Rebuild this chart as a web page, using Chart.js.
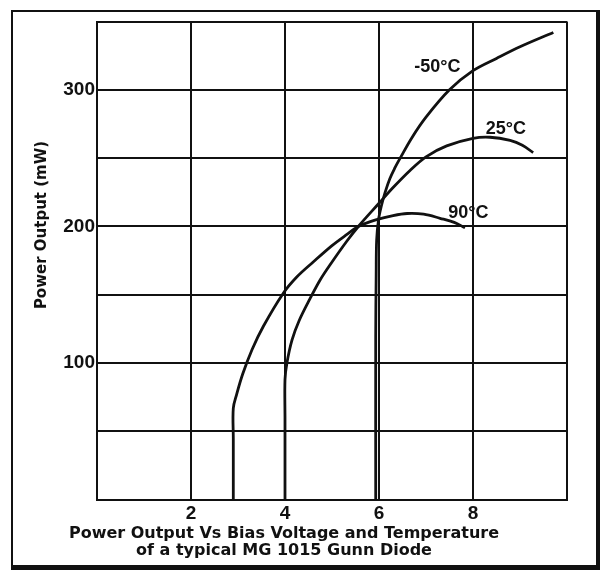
<!DOCTYPE html>
<html>
<head>
<meta charset="utf-8">
<script src="https://cdn.jsdelivr.net/npm/chart.js@4/dist/chart.umd.min.js"></script>
<style>
    html, body { margin: 0; padding: 0; background: #fff; }
    #wrap { position: relative; width: 601px; height: 573px; }
    #frame {
        position: absolute; left: 11px; top: 10px; width: 583px; height: 553px;
        border-style: solid; border-color: #111; border-width: 2px 4px 5px 2px;
    }
    #chart { position: absolute; left: 0; top: 0; }
</style>
</head>
<body>
<div id="wrap">
    <div id="frame"></div>
    <canvas id="chart" width="601" height="573"></canvas>
</div>
<script>
// ── Ejes ──
const xTicks = [2, 4, 6, 8];          // V
const yTicks = [100, 200, 300];       // mW

// ── Curvas: voltaje de polarización (V) / potencia de salida (mW) ──
const voltsCold  = [5.93, 5.93, 5.94, 5.95, 5.99, 6.05, 6.13, 6.23, 6.34, 6.45, 6.7, 7.0, 7.5, 8.0, 8.5, 9.0, 9.71];
const powerCold  = [0,    120,  165,  190,  205,  215,  225,  235,  243,  250,  265, 280, 300, 314, 323, 331.5, 342];

const voltsRoom  = [4.0, 4.0, 4.0, 4.04, 4.15, 4.3, 4.53, 4.75, 4.96, 5.31, 5.56, 6.0, 6.3,   6.66, 7.0, 7.44, 8.0,   8.36,  8.79, 9.05,  9.28];
const powerRoom  = [0,   60,  88,  100,  117,  131, 147,  161,  172,  189,  200,  217, 228.5, 241,  251, 259,  264.5, 265.3, 263,  259.5, 254];

const voltsHot   = [2.9, 2.9, 2.9, 2.97, 3.1, 3.3, 3.54, 3.96, 4.25, 4.6, 5.0, 5.31, 5.56, 5.95, 6.3, 6.6,   6.95, 7.3, 7.6, 7.83];
const powerHot   = [0,   45,  67,  77,   92,  110, 127,  151,  163,  174, 186, 194,  200,  205,  208, 209.5, 209,  206, 203, 199];

const curveNames  = ['-50°C', '25°C', '90°C'];
const labelVolts  = [7.24, 8.7, 7.9];
const labelPower  = [317, 271, 210];

const yTitle   = 'Power Output (mW)';
const caption  = ['Power Output Vs Bias Voltage and Temperature', 'of a typical MG 1015 Gunn Diode'];

const INK = '#111';

function puntos(xs, ys) {
    return xs.map((x, i) => ({ x, y: ys[i] }));
}

function serie(xs, ys) {
    return {
        data: puntos(xs, ys),
        showLine: true,
        borderColor: INK,
        borderWidth: 2.8,
        pointRadius: 0,
        tension: 0.35,
        fill: false
    };
}

// ── Textos sobre la gráfica: nombres de curva y título del eje Y ──
const textosGunn = {
    id: 'textosGunn',
    afterDatasetsDraw(chart) {
        const { ctx, scales: { x, y } } = chart;
        ctx.save();
        ctx.fillStyle = INK;
        ctx.textAlign = 'center';
        ctx.textBaseline = 'middle';
        ctx.font = 'bold 18px "Liberation Sans"';
        curveNames.forEach((t, i) => {
            ctx.fillText(t, x.getPixelForValue(labelVolts[i]), y.getPixelForValue(labelPower[i]));
        });
        ctx.translate(42.5, 225);
        ctx.rotate(-Math.PI / 2);
        ctx.font = 'bold 15px "DejaVu Sans"';
        ctx.fillText(yTitle, 0, 0);
        ctx.restore();
    }
};

new Chart(document.getElementById('chart'), {
    type: 'scatter',
    data: {
        datasets: [
            serie(voltsCold, powerCold),
            serie(voltsRoom, powerRoom),
            serie(voltsHot,  powerHot)
        ]
    },
    options: {
        responsive: false,
        animation: false,
        layout: { padding: { left: 1, right: 34, top: 21.5, bottom: 0 } },
        plugins: {
            legend: { display: false },
            tooltip: { enabled: false },
            title: {
                display: true,
                position: 'bottom',
                text: caption,
                color: INK,
                font: { family: '"DejaVu Sans"', size: 16, weight: 'bold', lineHeight: 1.1 },
                padding: { top: 0, bottom: 13 }
            }
        },
        scales: {
            x: {
                type: 'linear',
                min: 0, max: 10,
                afterFit: s => { s.height = 25; },
                ticks: {
                    stepSize: 2,
                    padding: 3,
                    color: INK,
                    font: { family: '"Liberation Sans"', size: 19, weight: 'bold' },
                    callback: v => xTicks.includes(v) ? v : ''
                },
                grid: { color: INK, lineWidth: 2, drawTicks: false },
                border: { color: INK, width: 2 }
            },
            y: {
                min: 0, max: 350,
                afterFit: s => { s.width = 96; },
                ticks: {
                    stepSize: 50,
                    padding: 2,
                    color: INK,
                    font: { family: '"Liberation Sans"', size: 19, weight: 'bold' },
                    callback: v => yTicks.includes(v) ? v : ''
                },
                grid: { color: INK, lineWidth: 2, drawTicks: false },
                border: { color: INK, width: 2 }
            }
        }
    },
    plugins: [textosGunn]
});
</script>
</body>
</html>
